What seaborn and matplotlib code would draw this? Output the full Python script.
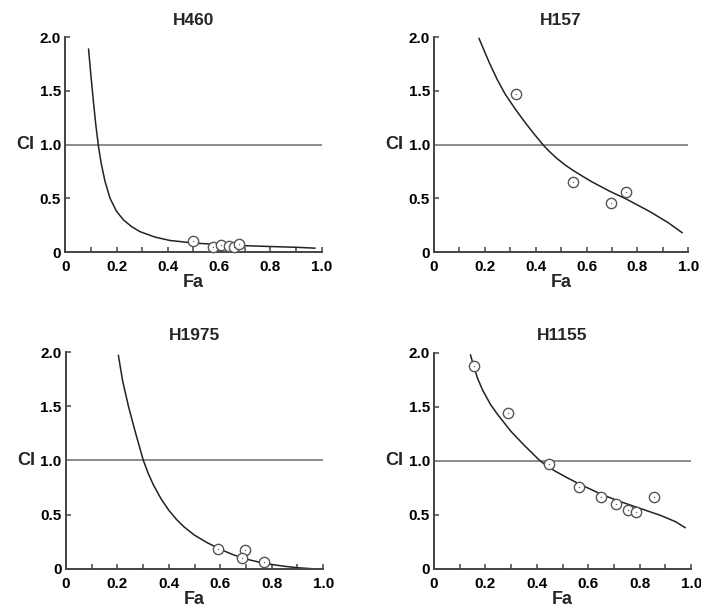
import numpy as np
import matplotlib
matplotlib.use("Agg")
import matplotlib.pyplot as plt
import pandas as pd
import seaborn as sns

# panel titles
cells = ["H460", "H157", "H1975", "H1155"]

# fitted CI curves
h460_fa = [0.091, 0.10, 0.11, 0.12, 0.13, 0.14, 0.155, 0.175, 0.2, 0.227, 0.26, 0.292, 0.35, 0.409, 0.5, 0.6, 0.7, 0.8, 0.9, 0.974]
h460_ci = [1.89, 1.65, 1.40, 1.17, 0.98, 0.83, 0.66, 0.50, 0.38, 0.30, 0.235, 0.19, 0.14, 0.108, 0.085, 0.07, 0.06, 0.052, 0.045, 0.037]
h157_fa = [0.177, 0.2, 0.22, 0.25, 0.28, 0.32, 0.354, 0.39, 0.43, 0.45, 0.48, 0.515, 0.547, 0.58, 0.62, 0.692, 0.755, 0.85, 0.92, 0.976]
h157_ci = [1.99, 1.86, 1.75, 1.60, 1.47, 1.33, 1.22, 1.11, 0.995, 0.945, 0.878, 0.812, 0.76, 0.712, 0.655, 0.565, 0.495, 0.375, 0.275, 0.18]
h1975_fa = [0.204, 0.22, 0.243, 0.27, 0.301, 0.32, 0.34, 0.37, 0.40, 0.43, 0.46, 0.50, 0.55, 0.6, 0.65, 0.7, 0.75, 0.8, 0.85, 0.9, 0.961]
h1975_ci = [1.97, 1.74, 1.50, 1.26, 1.00, 0.88, 0.775, 0.645, 0.54, 0.455, 0.385, 0.31, 0.24, 0.18, 0.13, 0.09, 0.062, 0.04, 0.023, 0.01, 0.0]
h1155_fa = [0.142, 0.155, 0.17, 0.19, 0.22, 0.25, 0.3, 0.35, 0.412, 0.44, 0.47, 0.52, 0.565, 0.65, 0.72, 0.8, 0.88, 0.94, 0.977]
h1155_ci = [1.98, 1.87, 1.76, 1.65, 1.52, 1.42, 1.27, 1.145, 1.00, 0.95, 0.905, 0.84, 0.785, 0.69, 0.625, 0.56, 0.495, 0.435, 0.38]

# measured points
h460_pfa = [0.50, 0.578, 0.606, 0.64, 0.656, 0.678]
h460_pci = [0.108, 0.046, 0.062, 0.053, 0.046, 0.077]
h157_pfa = [0.324, 0.545, 0.694, 0.755]
h157_pci = [1.47, 0.65, 0.457, 0.557]
h1975_pfa = [0.59, 0.696, 0.686, 0.77]
h1975_pci = [0.184, 0.172, 0.10, 0.065]
h1155_pfa = [0.155, 0.287, 0.447, 0.565, 0.648, 0.706, 0.756, 0.786, 0.856]
h1155_pci = [1.88, 1.444, 0.966, 0.759, 0.664, 0.602, 0.543, 0.528, 0.66]

curves = [(h460_fa, h460_ci), (h157_fa, h157_ci), (h1975_fa, h1975_ci), (h1155_fa, h1155_ci)]
points = [(h460_pfa, h460_pci), (h157_pfa, h157_pci), (h1975_pfa, h1975_pci), (h1155_pfa, h1155_pci)]

xticks = [0, 0.1, 0.2, 0.3, 0.4, 0.5, 0.6, 0.7, 0.8, 0.9, 1.0]
xlabels = ["0", "", "0.2", "", "0.4", "", "0.6", "", "0.8", "", "1.0"]
yticks = [0, 0.5, 1.0, 1.5, 2.0]
ylabels = ["0", "0.5", "1.0", "1.5", "2.0"]

sns.set_style("ticks")
plt.rcParams["font.family"] = ["Liberation Sans", "DejaVu Sans"]
plt.rcParams["font.weight"] = "bold"

fig = plt.figure(figsize=(7.01, 6.09), dpi=100)
# axes boxes in figure fractions
boxes = [
    [0.093, 0.586, 0.366, 0.353],
    [0.619, 0.586, 0.363, 0.353],
    [0.094, 0.066, 0.367, 0.356],
    [0.619, 0.066, 0.367, 0.355],
]

for i in range(4):
    ax = fig.add_axes(boxes[i])
    fa, ci = curves[i]
    pfa, pci = points[i]
    ax.axhline(1.0, color="#8c8c8c", lw=1.4, zorder=1)
    sns.lineplot(x=fa, y=ci, ax=ax, color="#222222", lw=1.1, zorder=2)
    sns.scatterplot(x=pfa, y=pci, ax=ax, marker="o", s=55, facecolor="white",
                    edgecolor="#555555", linewidth=1.0, zorder=3, clip_on=False)
    sns.scatterplot(x=pfa, y=pci, ax=ax, marker=".", s=4, color="#666666",
                    linewidth=0, zorder=4, clip_on=False)
    ax.set_xlim(0, 1.0)
    ax.set_ylim(0, 2.0)
    ax.set_xticks(xticks)
    ax.set_xticklabels(xlabels)
    ax.set_yticks(yticks)
    ax.set_yticklabels(ylabels)
    ax.tick_params(direction="in", length=3.5, width=1.1, colors="#444444",
                   labelcolor="black", labelsize=11)
    ax.tick_params(axis="x", pad=6)
    ax.tick_params(axis="y", pad=3)
    for lab in ax.get_xticklabels() + ax.get_yticklabels():
        lab.set_fontweight("bold")
    sns.despine(ax=ax)
    for s in ["left", "bottom"]:
        ax.spines[s].set_color("#444444")
        ax.spines[s].set_linewidth(1.4)
    ax.set_title(cells[i], fontsize=12.5, fontweight="bold", pad=9)
    ax.set_xlabel("Fa", fontsize=13, fontweight="bold", labelpad=0)
    ax.set_ylabel("CI", fontsize=13, fontweight="bold", rotation=0, va="center", ha="center")
    ax.yaxis.set_label_coords(-0.155, 0.5)

fig.savefig("out.png", dpi=100, facecolor="white")
